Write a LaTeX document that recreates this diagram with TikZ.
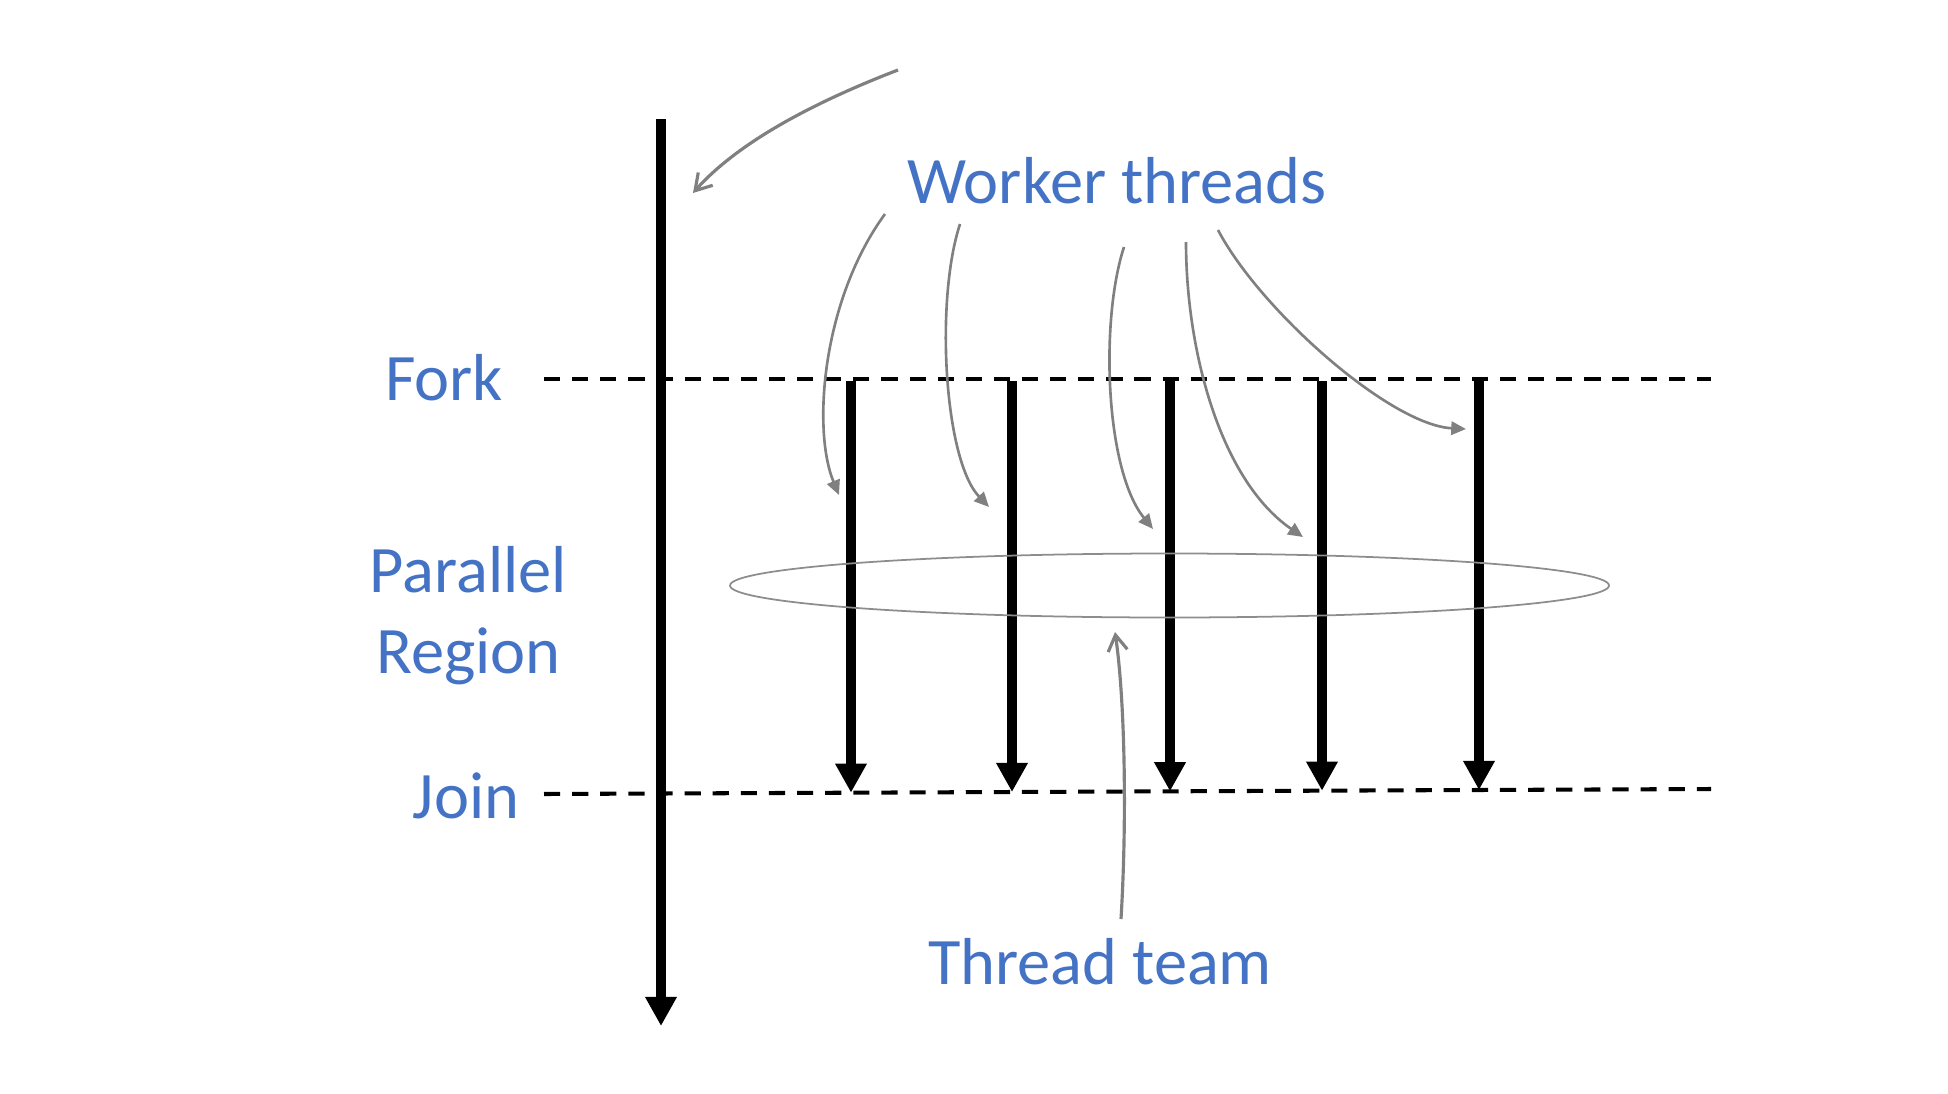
\documentclass[tikz,border=0pt]{standalone}
\usepackage{fontspec}
\setmainfont{Carlito}
\usepackage{xcolor}
\usetikzlibrary{arrows.meta}
\definecolor{lblblue}{RGB}{68,114,196}
\definecolor{pointer}{RGB}{128,128,128}

\begin{document}
\begin{tikzpicture}[x=1cm, y=-1cm,
  lbl/.style={text=lblblue, font=\fontsize{18.9}{22.8}\selectfont, inner sep=0pt},
  thread/.style={line width=2.6pt, -{Triangle[length=8.3pt, width=8.5pt]}},
  sync/.style={line width=1.15pt, dash pattern=on 4.6pt off 3.4pt},
  hint/.style={pointer, line width=0.75pt, -{Triangle[length=4.2pt, width=3.8pt]}},
  callout/.style={pointer, line width=0.9pt, -{Straight Barb[length=4.5pt, width=5.5pt]}}]
  \useasboundingbox (0,0) rectangle (19.48,10.94);
  \node[lbl, anchor=base] (fork) at (4.44,4.00) {Fork};
  \node[lbl, anchor=base, align=center] (region) at (4.685,6.73) {Parallel\\Region};
  \node[lbl, anchor=base] (join) at (4.66,8.18) {Join};
  \node[lbl, anchor=base] (worker) at (11.17,2.03) {Worker threads};
  \node[lbl, anchor=base] (team) at (11.00,9.84) {Thread team};
  \coordinate (forkL) at (5.44,3.79);
  \coordinate (forkR) at (17.11,3.79);
  \coordinate (joinL) at (5.44,7.94);
  \coordinate (joinR) at (17.11,7.89);
  \draw[sync] (forkL) -- (forkR);
  \draw[sync] (joinL) -- (joinR);
  \coordinate (mtop) at (6.61,1.19);
  \coordinate (mend) at (6.61,10.26);
  \draw[thread] (mtop) -- (mend);
  \foreach \x/\y [count=\i] in {8.51/7.927, 10.12/7.92, 11.70/7.913, 13.22/7.907, 14.79/7.90} {
    \coordinate (s\i) at (\x,3.81);
    \coordinate (e\i) at (\x,\y);
    \draw[thread] (s\i) -- (e\i);
  }
  \draw[pointer!90, line width=0.5pt] (11.695,5.855) ellipse (4.395 and 0.32);
  \coordinate (mtail) at (8.98,0.70);
  \coordinate (mhead) at (6.93,1.93);
  \draw[callout] (mtail) .. controls (8.20,1.00) and (7.40,1.40) .. (mhead);
  \coordinate (wa) at (8.85,2.14);
  \coordinate (wb) at (9.60,2.24);
  \coordinate (wc) at (11.24,2.47);
  \coordinate (wd) at (11.86,2.42);
  \coordinate (we) at (12.18,2.30);
  \coordinate (ha) at (8.39,4.95);
  \coordinate (hb) at (9.89,5.07);
  \coordinate (hc) at (11.53,5.29);
  \coordinate (hd) at (13.03,5.37);
  \coordinate (he) at (14.66,4.29);
  \draw[hint] (wa) .. controls (8.22,3.00) and (8.12,4.30) .. (ha);
  \draw[hint] (wb) .. controls (9.35,3.00) and (9.44,4.60) .. (hb);
  \draw[hint] (wc) .. controls (11.00,3.20) and (11.05,4.70) .. (hc);
  \draw[hint] (wd) .. controls (11.86,3.50) and (12.20,4.80) .. (hd);
  \draw[hint] (we) .. controls (12.60,3.10) and (13.90,4.25) .. (he);
  \coordinate (ttail) at (11.21,9.19);
  \coordinate (thead) at (11.15,6.32);
  \draw[callout] (ttail) .. controls (11.27,8.20) and (11.25,7.00) .. (thead);
\end{tikzpicture}
\end{document}
